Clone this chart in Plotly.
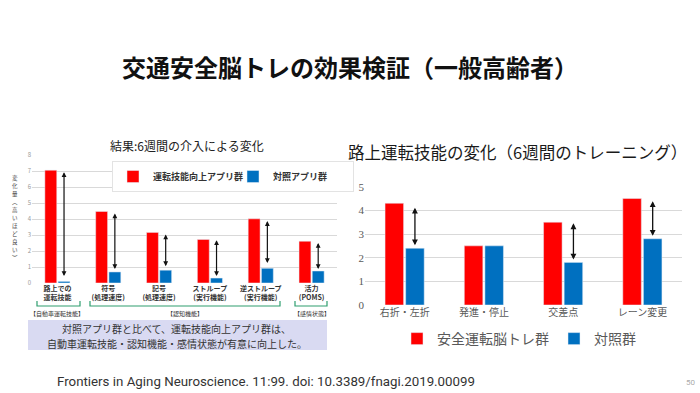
import plotly.graph_objects as go

# ---------------- data ----------------
left_categories = ["路上での<br>運転技能", "符号<br>(処理速度)", "記号<br>(処理速度)",
                   "ストループ<br>(実行機能)", "逆ストループ<br>(実行機能)", "活力<br>(POMS)"]
left_app = [7.05, 4.47, 3.16, 2.72, 4.01, 2.61]
left_control = [0.1, 0.69, 0.8, 0.31, 0.92, 0.75]
left_arrow_top = [6.92, 4.35, 3.03, 2.67, 3.87, 2.5]
left_arrow_bottom = [0.34, 0.78, 0.96, 0.34, 1.15, 0.78]
left_yticks = [0, 1, 2, 3, 4, 5, 6, 7, 8]
left_ytitle = "変化量︵高いほど良い︶"

right_categories = ["右折・左折", "発進・停止", "交差点", "レーン変更"]
right_training = [4.3, 2.5, 3.5, 4.5]
right_control = [2.4, 2.5, 1.8, 2.8]
right_arrow_top = [4.11, None, 3.45, 4.39]
right_arrow_bottom = [2.46, None, 1.86, 2.86]
right_yticks = [0, 1, 2, 3, 4, 5]

domain_groups = [("【自動車運転技能】", 0, 0), ("【認知機能】", 1, 4), ("【感情状態】", 5, 5)]
summary_lines = ["対照アプリ群と比べて、運転技能向上アプリ群は、",
                 "自動車運転技能・認知機能・感情状態が有意に向上した。"]

# ---------------- style ----------------
W, H = 700, 393
RED = "#FF0000"
BLUE = "#0070C0"
FONT = "Noto Sans CJK JP"
BARGAP = 0.48
BLUE_OFFSET = (1 - BARGAP) / 4

def px(x):
    return x / W

def py(y):
    return 1 - y / H

fig = go.Figure()

fig.add_trace(go.Bar(x=left_categories, y=left_app, name="運転技能向上アプリ群",
                     marker_color=RED, xaxis="x", yaxis="y", legend="legend"))
fig.add_trace(go.Bar(x=left_categories, y=left_control, name="対照アプリ群",
                     marker_color=BLUE, xaxis="x", yaxis="y", legend="legend"))
fig.add_trace(go.Bar(x=right_categories, y=right_training, name="安全運転脳トレ群",
                     marker_color=RED, xaxis="x2", yaxis="y2", legend="legend2"))
fig.add_trace(go.Bar(x=right_categories, y=right_control, name="対照群",
                     marker_color=BLUE, xaxis="x2", yaxis="y2", legend="legend2"))

annotations = []

# arrows (left)
for i, (t, b) in enumerate(zip(left_arrow_top, left_arrow_bottom)):
    annotations.append(dict(x=i + BLUE_OFFSET, y=t, ax=i + BLUE_OFFSET, ay=b,
                            xref="x", yref="y", axref="x", ayref="y", text="",
                            showarrow=True, arrowhead=2, startarrowhead=2,
                            arrowside="end+start", arrowsize=0.8, arrowwidth=1.2,
                            arrowcolor="#111"))
# arrows (right)
for i, (t, b) in enumerate(zip(right_arrow_top, right_arrow_bottom)):
    if t is None:
        continue
    annotations.append(dict(x=i + BLUE_OFFSET, y=t, ax=i + BLUE_OFFSET, ay=b,
                            xref="x2", yref="y2", axref="x2", ayref="y2", text="",
                            showarrow=True, arrowhead=2, startarrowhead=2,
                            arrowside="end+start", arrowsize=0.9, arrowwidth=1.3,
                            arrowcolor="#111"))

def txt(text, x, y, size, color="#222", family=FONT, xanchor="center", align="center"):
    return dict(text=text, x=px(x), y=py(y), xref="paper", yref="paper", showarrow=False,
                xanchor=xanchor, yanchor="middle", align=align,
                font=dict(size=size, color=color, family=family))

# titles and texts
annotations += [
    txt("<b>交通安全脳トレの効果検証（一般高齢者）</b>", 350, 66, 24, "#111"),
    txt("結果:6週間の介入による変化", 187, 145, 12, "#222"),
    txt("路上運転技能の変化（6週間のトレーニング）", 517, 152, 16.5, "#1a1a1a"),
    txt("Frontiers in Aging Neuroscience. 11:99. doi: 10.3389/fnagi.2019.00099",
        55, 381, 13.3, "#333", "Roboto", xanchor="left"),
    txt("50", 690, 382, 8, "#aaa", "Roboto"),
]
for k, line in enumerate(summary_lines):
    annotations.append(txt(line, 177, 328.5 + k * 14.5, 10, "#333"))

# vertical y-axis title of the left chart (upright characters stacked)
STEP = 8
start = 218 - STEP * (len(left_ytitle) - 1) / 2
for k, ch in enumerate(left_ytitle):
    annotations.append(txt(ch, 15, start + k * STEP, 5.5, "#444"))

# domain group labels under the left chart
L0, CAT_W = 32, (337 - 32) / len(left_categories)
for label, a, b in domain_groups:
    cx = L0 + CAT_W * ((a + b) / 2 + 0.5)
    annotations.append(txt(label, cx, 313, 6, "#333"))

shapes = []
# lavender box
shapes.append(dict(type="rect", xref="paper", yref="paper", x0=px(28), x1=px(327),
                   y0=py(350), y1=py(320), fillcolor="#D9DAF2", line=dict(width=0),
                   layer="below"))
# green brackets
bracket_px = [(37, 80), (90, 280), (295, 327)]
for xa, xb in bracket_px:
    path = (f"M {px(xa)},{py(301)} L {px(xa)},{py(306)} "
            f"L {px(xb)},{py(306)} L {px(xb)},{py(301)}")
    shapes.append(dict(type="path", xref="paper", yref="paper", path=path,
                       line=dict(color="#2E9E6E", width=1.2)))

fig.update_layout(
    width=W, height=H,
    margin=dict(l=0, r=0, t=0, b=0, autoexpand=False),
    paper_bgcolor="white", plot_bgcolor="white",
    font=dict(family=FONT),
    barmode="group", bargap=BARGAP, bargroupgap=0.1,
    xaxis=dict(domain=[px(32), px(337)], anchor="y", showgrid=False, showline=False,
               ticks="", automargin=False,
               tickfont=dict(size=7, color="#333", family=FONT, weight="bold"),
               fixedrange=True),
    yaxis=dict(domain=[py(283), py(155)], anchor="x", range=[0, 8], tickvals=left_yticks,
               gridcolor="#D9D9D9", gridwidth=1, zeroline=False, showline=False,
               automargin=False, tickfont=dict(size=6, color="#999"), fixedrange=True),
    xaxis2=dict(domain=[px(365), px(682)], anchor="y2", showgrid=False, showline=False,
                ticks="", automargin=False,
                tickfont=dict(size=10, color="#595959", family=FONT),
                fixedrange=True),
    yaxis2=dict(domain=[py(305), py(186.7)], anchor="x2", range=[0, 5], tickvals=right_yticks,
                gridcolor="#D9D9D9", gridwidth=1, zeroline=False, showline=False,
                automargin=False,
                tickfont=dict(size=11, color="#595959", family="Liberation Serif"),
                fixedrange=True),
    legend=dict(x=px(112), y=py(161), xanchor="left", yanchor="top", orientation="h",
                bgcolor="white", bordercolor="#E3E3E3", borderwidth=1,
                font=dict(size=9, color="#333", family=FONT, weight="bold"),
                entrywidth=75, itemwidth=30),
    legend2=dict(x=px(519), y=py(339), xanchor="center", yanchor="middle", orientation="h",
                 bgcolor="rgba(0,0,0,0)",
                 font=dict(size=14, color="#595959", family=FONT)),
    annotations=annotations,
    shapes=shapes,
    showlegend=True,
)

fig.write_html("out.html", config={"displayModeBar": False},
               post_script="document.body.style.margin='0';document.body.style.overflow='hidden';")
